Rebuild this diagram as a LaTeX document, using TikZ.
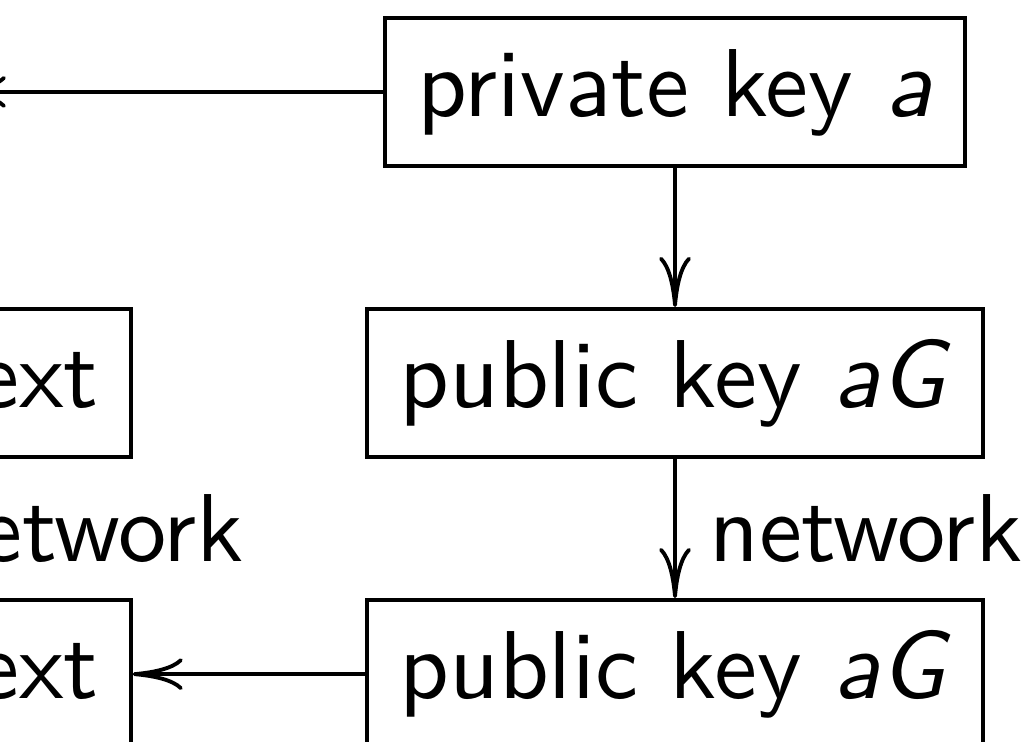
\documentclass[tikz,border=0pt]{standalone}
\usetikzlibrary{positioning,calc,arrows.meta}

\begin{document}
\begin{tikzpicture}[node distance=14.4pt,auto,font=\sffamily,
    >={Computer Modern Rightarrow[length=5.2pt,width=3.3pt]},
    keybox/.style={draw, text height=6.9pt, text depth=1.8pt}]
    \useasboundingbox (-69.95pt,9.53pt) rectangle (36.58pt,-67.36pt);
    \clip (-69.95pt,9.53pt) rectangle (36.58pt,-67.36pt);
    \node [keybox] (priv) at (0,0) {private key \textit{a}};
    \node [keybox] (pub) [below=of priv] {public key \textit{aG}};
    \node [keybox] (pubrx) [below=of pub] {public key \textit{aG}};
    \node [keybox, text width=42pt, align=right] (ctop) [left=24.1pt of pub] {ext};
    \node [keybox, text width=42pt, align=right] (cbot) [left=24.1pt of pubrx] {ext};
    \node [right] (netl) at ($(ctop.south)!.5!(cbot.north)$) {network};
    \coordinate [left=44.3pt of priv] (ptip);

    \path[->] (priv) edge (ptip);
    \path[->] (priv) edge (pub);
    \path[->] (pub) edge node {network} (pubrx);
    \path[->] (pubrx) edge (cbot);
\end{tikzpicture}
\end{document}
